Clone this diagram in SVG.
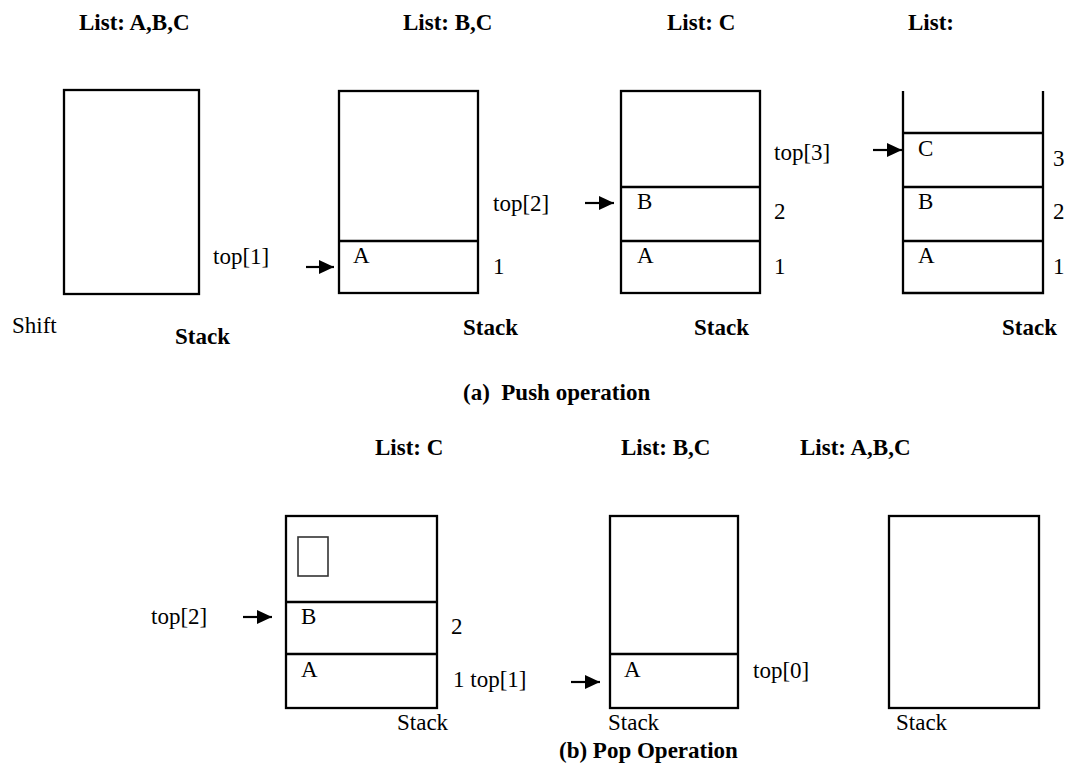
<svg xmlns="http://www.w3.org/2000/svg" width="1082" height="767" viewBox="0 0 1082 767" font-family="'Liberation Serif', 'Times New Roman', Times, 'DejaVu Serif', serif">
<style>
text{font-family:'Liberation Serif','Times New Roman',Times,'DejaVu Serif',serif;font-size:23px;fill:#000}
.b{font-weight:bold}
.box{fill:none;stroke:#000;stroke-width:2.3}
.ln{stroke:#000;stroke-width:2.3;fill:none}
.arr{stroke:#000;stroke-width:2.2;fill:none;marker-end:url(#ah)}
.small{fill:none;stroke:#333;stroke-width:1.6}
</style>
<defs>
<marker id="ah" markerUnits="userSpaceOnUse" markerWidth="16" markerHeight="16" refX="15" refY="8" orient="auto">
<path d="M0,1 L15,8 L0,15 z" fill="#000"/>
</marker>
</defs>
<rect width="1082" height="767" fill="#fff"/>

<g id="labels-top">
<text class="b" x="79" y="30">List: A,B,C</text>
<text class="b" x="403" y="30">List: B,C</text>
<text class="b" x="667" y="30">List: C</text>
<text class="b" x="908" y="30">List:</text>
<text x="12" y="333">Shift</text>
<text class="b" x="175" y="344">Stack</text>
<text class="b" x="463" y="335">Stack</text>
<text class="b" x="694" y="335">Stack</text>
<text class="b" x="1002" y="335">Stack</text>
<text class="b" x="463" y="400" xml:space="preserve">(a)  Push operation</text>
</g>

<g id="stack1">
<rect class="box" x="64" y="90" width="135" height="204"/>
</g>

<g id="stack2">
<rect class="box" x="339" y="91" width="139" height="202"/>
<line class="ln" x1="339" y1="241" x2="478" y2="241"/>
<text x="353" y="263">A</text>
</g>

<g id="stack3">
<rect class="box" x="621" y="91" width="139" height="202"/>
<line class="ln" x1="621" y1="187" x2="760" y2="187"/>
<line class="ln" x1="621" y1="241" x2="760" y2="241"/>
<text x="637" y="209">B</text>
<text x="637" y="263">A</text>
</g>

<g id="stack4">
<path class="ln" d="M903,91 L903,293 L1043,293 L1043,91"/>
<line class="ln" x1="903" y1="133" x2="1043" y2="133"/>
<line class="ln" x1="903" y1="187" x2="1043" y2="187"/>
<line class="ln" x1="903" y1="241" x2="1043" y2="241"/>
<text x="918" y="156">C</text>
<text x="918" y="209">B</text>
<text x="918" y="263">A</text>
</g>

<g id="index-labels-top">
<text x="213" y="264">top[1]</text>
<text x="493" y="274">1</text>
<text x="493" y="211">top[2]</text>
<text x="774" y="219">2</text>
<text x="774" y="274">1</text>
<text x="774" y="160">top[3]</text>
<text x="1053" y="166">3</text>
<text x="1053" y="219">2</text>
<text x="1053" y="274">1</text>
</g>

<g id="labels-bottom">
<text class="b" x="375" y="455">List: C</text>
<text class="b" x="621" y="455">List: B,C</text>
<text class="b" x="800" y="455">List: A,B,C</text>
<text x="397" y="730">Stack</text>
<text x="608" y="730">Stack</text>
<text x="896" y="730">Stack</text>
<text class="b" x="559" y="758">(b) Pop Operation</text>
</g>

<g id="stack5">
<rect class="box" x="286" y="516" width="151" height="192"/>
<line class="ln" x1="286" y1="602" x2="437" y2="602"/>
<line class="ln" x1="286" y1="654" x2="437" y2="654"/>
<rect class="small" x="298" y="537" width="30" height="39"/>
<text x="301" y="624">B</text>
<text x="301" y="677">A</text>
</g>

<g id="stack6">
<rect class="box" x="610" y="516" width="128" height="192"/>
<line class="ln" x1="610" y1="654" x2="738" y2="654"/>
<text x="624" y="677">A</text>
</g>

<g id="stack7">
<rect class="box" x="889" y="516" width="150" height="192"/>
</g>

<g id="index-labels-bottom">
<text x="151" y="624">top[2]</text>
<text x="451" y="634">2</text>
<text x="453" y="687">1 top[1]</text>
<text x="753" y="678">top[0]</text>
</g>

<g id="connectors">
<line class="arr" x1="306" y1="267" x2="334" y2="267"/>
<line class="arr" x1="585" y1="203" x2="614" y2="203"/>
<line class="arr" x1="873" y1="150" x2="902" y2="150"/>
<line class="arr" x1="243" y1="617" x2="272" y2="617"/>
<line class="arr" x1="571" y1="682" x2="600" y2="682"/>
</g>
</svg>
